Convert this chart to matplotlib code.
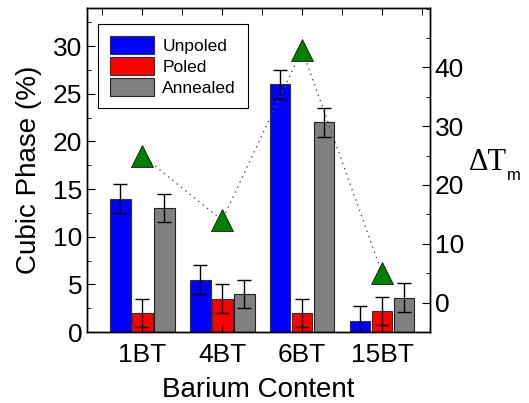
import matplotlib
matplotlib.use('Agg')
import matplotlib.pyplot as plt
import numpy as np
from matplotlib.ticker import MultipleLocator

plt.rcParams['font.family'] = ['Liberation Sans', 'DejaVu Sans']

samples = ['1BT', '4BT', '6BT', '15BT']
unpoled = [14.0, 5.5, 26.0, 1.2]
poled = [2.0, 3.5, 2.0, 2.2]
annealed = [13.0, 4.0, 22.0, 3.6]
unpoled_err = [1.5, 1.5, 1.5, 1.5]
poled_err = [1.5, 1.5, 1.5, 1.5]
annealed_err = [1.5, 1.5, 1.5, 1.5]
delta_tm = [25.0, 14.0, 43.0, 5.0]

x = np.arange(1, len(samples) + 1)
w = 0.26
off = 0.275

fig = plt.figure(figsize=(5.29, 4.03), dpi=100)
ax = fig.add_axes([87 / 529, 1 - 332 / 403, 343 / 529, 324 / 403])

err_kw = dict(ecolor='black', elinewidth=1.0, capsize=5, capthick=1.0)
ax.bar(x - off, unpoled, w, yerr=unpoled_err, color='#0000ff',
       edgecolor='#333333', linewidth=0.8, label='Unpoled', error_kw=err_kw)
ax.bar(x, poled, w, yerr=poled_err, color='#ff0000',
       edgecolor='#333333', linewidth=0.8, label='Poled', error_kw=err_kw)
ax.bar(x + off, annealed, w, yerr=annealed_err, color='#808080',
       edgecolor='#222222', linewidth=0.8, label='Annealed', error_kw=err_kw)

ax.set_xlim(0.31, 4.6)
ax.set_ylim(0, 34)
ax.set_xticks(x)
ax.set_xticklabels(samples)
ax.yaxis.set_major_locator(MultipleLocator(5))
ax.yaxis.set_minor_locator(MultipleLocator(2.5))
ax.xaxis.set_minor_locator(MultipleLocator(0.5))
ax.tick_params(axis='both', which='both', direction='in', labelsize=19)
ax.tick_params(axis='x', which='both', top=True, pad=8)
ax.tick_params(axis='y', which='major', length=6, right=False)
ax.tick_params(axis='y', which='minor', length=3)
ax.tick_params(axis='x', which='major', length=5)
ax.tick_params(axis='x', which='minor', length=5, top=True, bottom=False)
ax.set_xlabel('Barium Content', fontsize=20, labelpad=7)
ax.set_ylabel('Cubic Phase (%)', fontsize=20, labelpad=8)

leg = ax.legend(loc='upper left', bbox_to_anchor=(0.032, 0.951), fontsize=12.5,
                handlelength=2.5, handleheight=1.25, labelspacing=0.15,
                borderpad=0.7, borderaxespad=0, fancybox=False,
                edgecolor='black', framealpha=1, handletextpad=0.5)
leg.get_frame().set_linewidth(0.8)

ax2 = ax.twinx()
ax2.plot(x, delta_tm, linestyle=(0, (1, 3)), color='#555555', linewidth=1.0,
         marker='^', markersize=16, markerfacecolor='#008000',
         markeredgecolor='black', markeredgewidth=0.5)
ax2.set_ylim(-5, 50.1)
ax2.set_yticks([0, 10, 20, 30, 40])
ax2.yaxis.set_minor_locator(MultipleLocator(5))
ax2.tick_params(axis='y', which='both', direction='in', labelsize=19)
ax2.tick_params(axis='y', which='major', length=6)
ax2.tick_params(axis='y', which='minor', length=3)
fig.text(469 / 529, 1 - 162 / 403, 'ΔT', fontsize=22,
         family=['Liberation Serif', 'DejaVu Serif'], va='center', ha='left')
fig.text(507 / 529, 1 - 176 / 403, 'm', fontsize=12, va='center', ha='left')

for a in (ax, ax2):
    for s in a.spines.values():
        s.set_linewidth(1.0)

fig.savefig('out.png', dpi=100)
